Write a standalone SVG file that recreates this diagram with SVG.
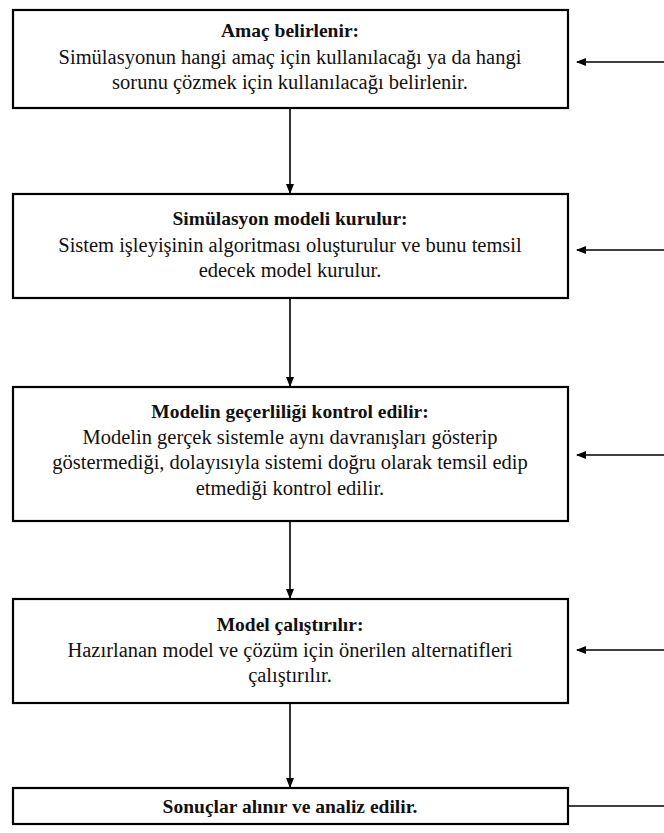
<svg xmlns="http://www.w3.org/2000/svg" width="664" height="833" viewBox="0 0 664 833">
<style>
.box{fill:#fff;stroke:#000;stroke-width:2.2}
.c{stroke:#000;stroke-width:1.6;fill:none}
</style>
<defs>
<marker id="ah" markerWidth="10" markerHeight="8" refX="9" refY="4" orient="auto" markerUnits="userSpaceOnUse">
<path d="M0,0 L10,4 L0,8 Z" fill="#000"/>
</marker>
</defs>
<rect width="664" height="833" fill="#fff"/>
<g font-family="'Liberation Serif', 'DejaVu Serif', serif" font-size="20.5" fill="#111" text-anchor="middle">
<g id="n1">
<rect class="box" x="13" y="10" width="555" height="98"/>
<text font-weight="bold" font-size="19.5" x="290" y="37">Amaç belirlenir:</text>
<text x="290" y="64">Simülasyonun hangi amaç için kullanılacağı ya da hangi</text>
<text x="290" y="89">sorunu çözmek için kullanılacağı belirlenir.</text>
</g>
<g id="n2">
<rect class="box" x="13" y="194" width="555" height="104"/>
<text font-weight="bold" font-size="19.5" x="290" y="225">Simülasyon modeli kurulur:</text>
<text x="290" y="252">Sistem işleyişinin algoritması oluşturulur ve bunu temsil</text>
<text x="290" y="277">edecek model kurulur.</text>
</g>
<g id="n3">
<rect class="box" x="13" y="387" width="555" height="134"/>
<text font-weight="bold" font-size="19.5" x="290" y="418">Modelin geçerliliği kontrol edilir:</text>
<text x="290" y="444">Modelin gerçek sistemle aynı davranışları gösterip</text>
<text x="290" y="469">göstermediği, dolayısıyla sistemi doğru olarak temsil edip</text>
<text x="290" y="495">etmediği kontrol edilir.</text>
</g>
<g id="n4">
<rect class="box" x="13" y="599" width="555" height="104"/>
<text font-weight="bold" font-size="19.5" x="290" y="631">Model çalıştırılır:</text>
<text x="290" y="657">Hazırlanan model ve çözüm için önerilen alternatifleri</text>
<text x="290" y="682">çalıştırılır.</text>
</g>
<g id="n5">
<rect class="box" x="13" y="788" width="555" height="36"/>
<text font-weight="bold" font-size="19.5" x="290" y="813">Sonuçlar alınır ve analiz edilir.</text>
</g>
</g>
<g id="connectors">
<line class="c" x1="290" y1="108" x2="290" y2="193" marker-end="url(#ah)"/>
<line class="c" x1="290" y1="298" x2="290" y2="386" marker-end="url(#ah)"/>
<line class="c" x1="290" y1="521" x2="290" y2="598" marker-end="url(#ah)"/>
<line class="c" x1="290" y1="703" x2="290" y2="787" marker-end="url(#ah)"/>
<line class="c" x1="664" y1="62" x2="577" y2="62" marker-end="url(#ah)"/>
<line class="c" x1="664" y1="250" x2="577" y2="250" marker-end="url(#ah)"/>
<line class="c" x1="664" y1="455" x2="577" y2="455" marker-end="url(#ah)"/>
<line class="c" x1="664" y1="650" x2="577" y2="650" marker-end="url(#ah)"/>
<line class="c" x1="568" y1="806" x2="664" y2="806"/>
</g>
</svg>
